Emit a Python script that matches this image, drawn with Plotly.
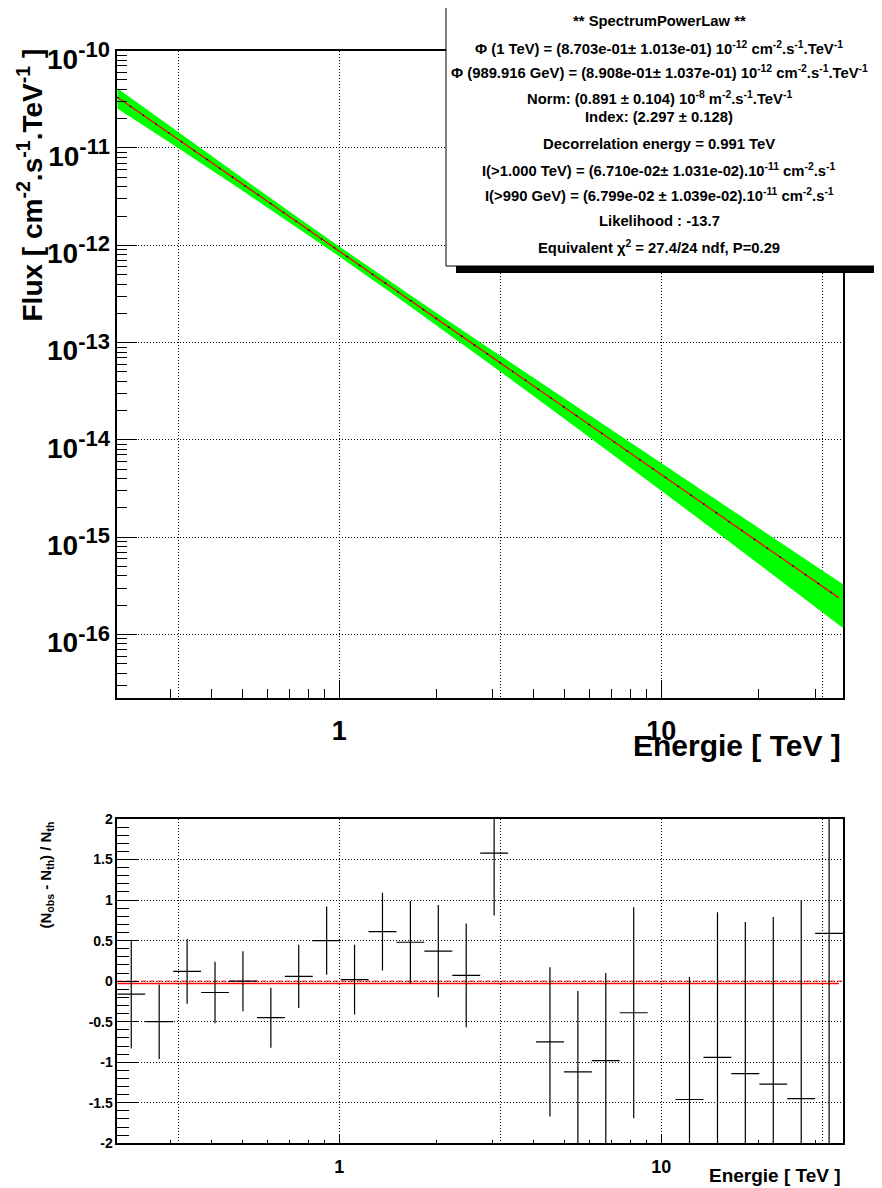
import plotly.graph_objects as go

W, H = 882, 1188
PAGE_OFFSET = 8  # the page body margin shifts the figure by this many pixels

# ---------------- data: fitted spectrum (top panel) ----------------
band_energy = [0.2046, 0.3, 0.5, 0.7, 1.0, 1.5, 2.0, 3.0, 5.0, 7.0, 10.0, 15.0, 20.0, 30.0, 36.64]
band_upper = [4.11e-11, 1.650e-11, 4.903e-12, 2.222e-12, 9.716e-13, 3.866e-13, 2.031e-13, 8.25e-14,
              2.669e-14, 1.271e-14, 5.785e-15, 2.364e-15, 1.252e-15, 5.11e-16, 3.28e-16]
band_lower = [2.55e-11, 1.116e-11, 3.651e-12, 1.728e-12, 7.690e-13, 2.992e-13, 1.513e-13, 5.71e-14,
              1.647e-14, 7.23e-15, 3.001e-15, 1.098e-15, 5.36e-16, 1.934e-16, 1.167e-16]
fit_energy = [0.2046, 0.3, 0.5, 0.7, 1.0, 1.5, 2.0, 3.0, 5.0, 7.0, 10.0, 15.0, 20.0, 30.0, 35.6]
fit_flux = [3.33e-11, 1.383e-11, 4.277e-12, 1.975e-12, 8.703e-13, 3.429e-13, 1.772e-13, 6.98e-14,
            2.158e-14, 9.97e-15, 4.393e-15, 1.731e-15, 8.94e-16, 3.52e-16, 2.377e-16]

# ---------------- data: residuals (bottom panel) ----------------
res_energy = [0.2261, 0.2761, 0.3371, 0.4115, 0.5024, 0.6134, 0.7486, 0.9140, 1.1158, 1.3622,
              1.6632, 2.0305, 2.4790, 3.0265, 4.510, 5.507, 6.723, 8.208, 12.23, 14.94,
              18.23, 22.26, 27.18, 33.18]
res_value = [-0.16, -0.50, 0.12, -0.14, 0.00, -0.45, 0.06, 0.50, 0.02, 0.61,
             0.48, 0.37, 0.07, 1.58, -0.75, -1.12, -0.98, -0.39, -1.46, -0.94,
             -1.14, -1.27, -1.45, 0.59]
res_error = [0.67, 0.46, 0.40, 0.38, 0.37, 0.37, 0.39, 0.42, 0.43, 0.48,
             0.51, 0.57, 0.64, 0.77, 0.92, 1.00, 1.08, 1.30, 1.51, 1.79,
             1.87, 2.06, 2.45, 3.00]
bin_log_width = 0.08666
ratio_line_level = -0.03
ratio_line_end = 35.6

energy_range_log = [-0.689, 1.564]
flux_range_log = [-16.65, -10.0]

stats_lines = [
    "** SpectrumPowerLaw **",
    "Φ (1 TeV) = (8.703e-01± 1.013e-01) 10<sup>-12</sup> cm<sup>-2</sup>.s<sup>-1</sup>.TeV<sup>-1</sup>",
    "Φ (989.916 GeV) = (8.908e-01± 1.037e-01) 10<sup>-12</sup> cm<sup>-2</sup>.s<sup>-1</sup>.TeV<sup>-1</sup>",
    "Norm: (0.891 ± 0.104) 10<sup>-8</sup> m<sup>-2</sup>.s<sup>-1</sup>.TeV<sup>-1</sup>",
    "Index: (2.297 ± 0.128)",
    "Decorrelation energy = 0.991 TeV",
    "I(>1.000 TeV) = (6.710e-02± 1.031e-02).10<sup>-11</sup> cm<sup>-2</sup>.s<sup>-1</sup>",
    "I(>990 GeV) = (6.799e-02 ± 1.039e-02).10<sup>-11</sup> cm<sup>-2</sup>.s<sup>-1</sup>",
    "Likelihood : -13.7",
    "Equivalent χ<sup>2</sup> = 27.4/24 ndf, P=0.29",
]
stats_y = [21, 48, 72, 98, 117, 144, 170, 195, 221, 247]

# ---------------- helpers (page pixel -> paper fraction) ----------------
def px(x):
    return (x - PAGE_OFFSET) / W

def py(y):
    return 1 - (y - PAGE_OFFSET) / H

FONT = "Liberation Sans, Arial, Helvetica, sans-serif"
xdom = [px(117.3), px(843)]
top_dom = [py(697.7), py(50.7)]
bot_dom = [py(1143.3), py(819)]

minor_x = [0.3, 0.4, 0.5, 0.6, 0.7, 0.8, 0.9, 2, 3, 4, 5, 6, 7, 8, 9, 20, 30]
grid_x = [0.3162, 1, 3.162, 10, 31.62]
decades = [1e-16, 1e-15, 1e-14, 1e-13, 1e-12, 1e-11, 1e-10]
decade_text = ["<b>10<sup><span style='font-size:22px'>%d</span></sup></b>" % e for e in range(-16, -9)]
minor_y = [k * 10.0 ** n for n in range(-17, -10) for k in range(2, 10)]

fig = go.Figure()

# band (closed polygon)
fig.add_trace(go.Scatter(
    x=band_energy + band_energy[::-1], y=band_upper + band_lower[::-1],
    fill="toself", fillcolor="#00ff00", line=dict(width=0), mode="lines",
    xaxis="x", yaxis="y", showlegend=False, hoverinfo="skip"))
fig.add_trace(go.Scatter(
    x=fit_energy, y=fit_flux, mode="lines", line=dict(color="#ff0000", width=1.3),
    xaxis="x", yaxis="y", showlegend=False))
fig.add_trace(go.Scatter(
    x=fit_energy, y=fit_flux, mode="lines", line=dict(color="#000000", width=1.5, dash="1.5px,14px"),
    xaxis="x", yaxis="y", showlegend=False))
# invisible traces for grid overlay axes
fig.add_trace(go.Scatter(x=[1], y=[1e-12], mode="markers", marker=dict(opacity=0),
                         xaxis="x3", yaxis="y", showlegend=False, hoverinfo="skip"))
fig.add_trace(go.Scatter(x=[1], y=[0], mode="markers", marker=dict(opacity=0),
                         xaxis="x4", yaxis="y2", showlegend=False, hoverinfo="skip"))

# residual panel
e_min, e_max = 10 ** energy_range_log[0], 10 ** energy_range_log[1]
fig.add_trace(go.Scatter(
    x=[e_min, e_max], y=[0, 0], mode="lines",
    line=dict(color="#ff0000", width=1, dash="5px,3px"),
    xaxis="x2", yaxis="y2", showlegend=False))
fig.add_trace(go.Scatter(
    x=[e_min, ratio_line_end], y=[ratio_line_level, ratio_line_level], mode="lines",
    line=dict(color="#ff0000", width=1.5),
    xaxis="x2", yaxis="y2", showlegend=False))
half = 10 ** (bin_log_width / 2)
fig.add_trace(go.Scatter(
    x=res_energy, y=res_value, mode="markers", marker=dict(size=1, color="rgba(0,0,0,0)"),
    error_y=dict(type="data", array=res_error, color="black", thickness=1.2, width=0),
    error_x=dict(type="data", symmetric=False,
                 array=[e * (half - 1) for e in res_energy],
                 arrayminus=[e * (1 - 1 / half) for e in res_energy],
                 color="black", thickness=1.2, width=0),
    xaxis="x2", yaxis="y2", showlegend=False))

axis_common = dict(showline=True, mirror=True, linecolor="black", linewidth=1.5,
                   zeroline=False, tickcolor="black", tickwidth=1, automargin=False)
grid_axis = dict(type="log", range=energy_range_log, tickmode="array",
                 tickvals=grid_x, showticklabels=False, ticks="", showline=False, automargin=False,
                 showgrid=True, gridcolor="black", gridwidth=1, griddash="1px,2px", zeroline=False)

fig.update_layout(
    width=W, height=H, margin=dict(l=0, r=0, t=0, b=0, autoexpand=False),
    paper_bgcolor="white", plot_bgcolor="white", showlegend=False,
    font=dict(family=FONT, color="black"),
    xaxis=dict(axis_common, type="log", range=energy_range_log, domain=xdom, anchor="y",
               tickmode="array", tickvals=[1, 10], ticktext=["1", "10"], ticks="inside",
               ticklen=18, showgrid=False, ticklabelstandoff=8,
               tickfont=dict(size=27, family=FONT, weight="bold"),
               minor=dict(tickmode="array", tickvals=minor_x, ticks="inside", ticklen=9,
                          tickcolor="black", showgrid=False)),
    xaxis3=dict(grid_axis, overlaying="x", anchor="y", domain=xdom),
    yaxis=dict(axis_common, type="log", range=flux_range_log, domain=top_dom, anchor="x",
               tickmode="array", tickvals=decades, ticktext=decade_text, ticks="inside",
               ticklen=20, showgrid=True, gridcolor="black", gridwidth=1, griddash="1px,2px",
               ticklabelshift=8, tickfont=dict(size=28, family=FONT, weight="bold"),
               minor=dict(tickmode="array", tickvals=minor_y, ticks="inside", ticklen=10,
                          tickcolor="black", showgrid=False)),
    xaxis2=dict(axis_common, type="log", range=energy_range_log, domain=xdom, anchor="y2",
                tickmode="array", tickvals=[1, 10], ticktext=["1", "10"], ticks="inside",
                ticklen=10, showgrid=False, ticklabelstandoff=6,
                tickfont=dict(size=18, family=FONT, weight="bold"),
                minor=dict(tickmode="array", tickvals=minor_x, ticks="inside", ticklen=4,
                           tickcolor="black", showgrid=False)),
    xaxis4=dict(grid_axis, overlaying="x2", anchor="y2", domain=xdom),
    yaxis2=dict(axis_common, range=[-2, 2], domain=bot_dom, anchor="x2",
                tickmode="array", tickvals=[-2, -1.5, -1, -0.5, 0, 0.5, 1, 1.5, 2],
                ticktext=["-2", "-1.5", "-1", "-0.5", "0", "0.5", "1", "1.5", "2"],
                ticks="inside", ticklen=22, showgrid=True, gridcolor="black", gridwidth=1,
                griddash="1px,2px", tickfont=dict(size=14, family=FONT, weight="bold"),
                minor=dict(dtick=0.1, ticks="inside", ticklen=12, tickcolor="black", showgrid=False)),
)

# stats box
fig.add_shape(type="rect", xref="paper", yref="paper", x0=px(456), x1=px(900),
              y0=py(273), y1=py(266), fillcolor="black", line=dict(width=0), layer="above")
fig.add_shape(type="rect", xref="paper", yref="paper", x0=px(446), x1=px(900),
              y0=py(266), y1=py(6), fillcolor="white", line=dict(color="black", width=1), layer="above")
for txt, yy in zip(stats_lines, stats_y):
    fig.add_annotation(x=px(659), y=py(yy), xref="paper", yref="paper", text=txt,
                       showarrow=False, xanchor="center", yanchor="middle",
                       font=dict(size=14.8, family=FONT, weight="bold", color="black"))

# axis titles
fig.add_annotation(x=px(30), y=py(47), xref="paper", yref="paper",
                   text="Flux [ cm<sup>-2</sup>.s<sup>-1</sup>.TeV<sup>-1</sup> ]",
                   textangle=-90, showarrow=False, xanchor="center", yanchor="top",
                   font=dict(size=28, family=FONT, weight="bold"))
fig.add_annotation(x=px(843), y=py(745), xref="paper", yref="paper", text="Energie [ TeV ]",
                   showarrow=False, xanchor="right", yanchor="middle",
                   font=dict(size=30, family=FONT, weight="bold"))
fig.add_annotation(x=px(46), y=py(820), xref="paper", yref="paper",
                   text="(N<sub>obs</sub> - N<sub>th</sub>) / N<sub>th</sub>",
                   textangle=-90, showarrow=False, xanchor="center", yanchor="top",
                   font=dict(size=15, family=FONT, weight="bold"))
fig.add_annotation(x=px(843), y=py(1175), xref="paper", yref="paper", text="Energie [ TeV ]",
                   showarrow=False, xanchor="right", yanchor="middle",
                   font=dict(size=19, family=FONT, weight="bold"))

fig.write_html("out.html")
